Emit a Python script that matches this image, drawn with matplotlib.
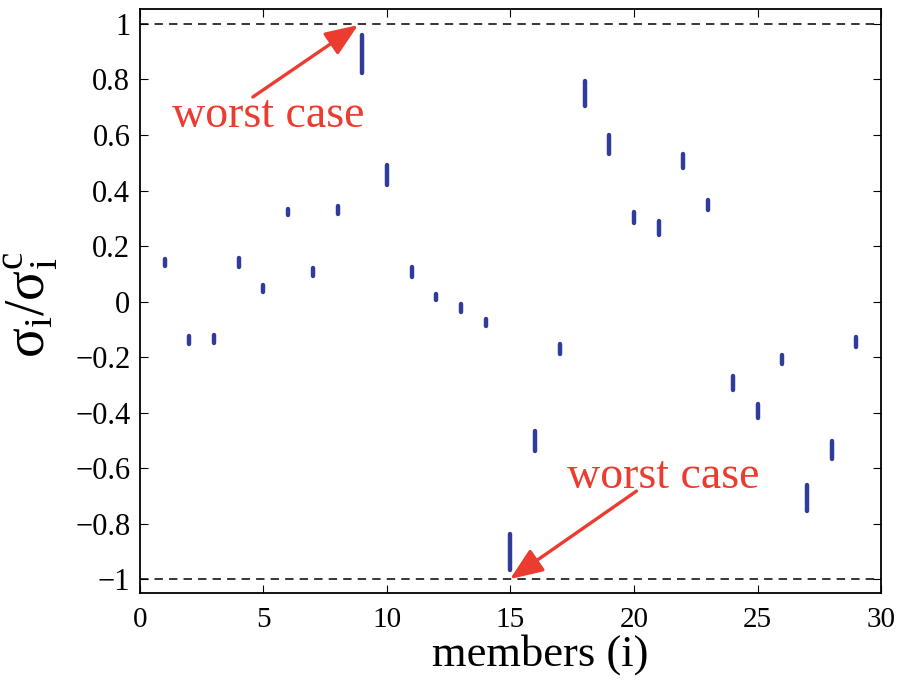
import matplotlib
matplotlib.use("Agg")
import matplotlib.pyplot as plt

# Stress ratio ranges per member (min, max over the load cases)
members = list(range(1, 30))
ratio_lo = [0.127, -0.152, -0.150, 0.123, 0.034, 0.310, 0.093, 0.315, 0.823, 0.421,
            0.088, 0.004, -0.036, -0.087, -0.969, -0.538, -0.188, 0.703, 0.532, 0.283,
            0.241, 0.481, 0.328, -0.320, -0.418, -0.225, -0.754, -0.568, -0.164]
ratio_hi = [0.154, -0.124, -0.122, 0.157, 0.061, 0.335, 0.121, 0.344, 0.959, 0.491,
            0.125, 0.028, -0.008, -0.064, -0.839, -0.468, -0.154, 0.794, 0.601, 0.323,
            0.290, 0.533, 0.366, -0.268, -0.368, -0.191, -0.660, -0.504, -0.128]

limit_lines = [1, -1]
yticks = [-1, -0.8, -0.6, -0.4, -0.2, 0, 0.2, 0.4, 0.6, 0.8, 1]
ytick_labels = ['\u22121', '\u22120.8', '\u22120.6', '\u22120.4', '\u22120.2', '0',
                '0.2', '0.4', '0.6', '0.8', '1']
xticks = [0, 5, 10, 15, 20, 25, 30]

# (text position, arrow tail, arrow head) for the two worst-case notes
note_text = "worst case"
note_pos = [(1.28, 0.630), (17.27, -0.673)]
note_tail = [(4.57, 0.737), (20.1, -0.683)]
note_head = [(8.83, 0.996), (14.98, -1.0)]

plt.rcParams['font.family'] = ['Liberation Serif', 'DejaVu Serif']
plt.rcParams['mathtext.fontset'] = 'custom'
plt.rcParams['mathtext.rm'] = 'Liberation Serif'
plt.rcParams['mathtext.it'] = 'Liberation Serif'

blue = '#2f3c9a'
red = '#ec3b2f'

fig = plt.figure(figsize=(8.99, 6.86), dpi=100)
ax = fig.add_axes([0.1557, 0.1356, 0.8243, 0.8513])

for y in limit_lines:
    ax.plot([0, 30], [y, y], color='black', lw=1.1, dashes=(5.5, 4))

segs = ax.vlines(members, ratio_lo, ratio_hi, colors=blue, lw=3.2)
segs.set_capstyle('round')

for pos, tail, head in zip(note_pos, note_tail, note_head):
    ax.text(pos[0], pos[1], note_text, color=red, fontsize=33,
            ha='left', va='baseline')
    ax.annotate('', xy=head, xytext=tail,
                arrowprops=dict(arrowstyle='-|>,head_length=1.0,head_width=0.4',
                                color=red, lw=2.4, shrinkA=0, shrinkB=0,
                                mutation_scale=20))

ax.set_xlim(0, 30)
ax.set_ylim(-1.05, 1.054)
ax.set_xticks(xticks)
ax.set_yticks(yticks)
ax.set_yticklabels(ytick_labels)
ax.tick_params(direction='in', top=True, right=True, length=6, width=0.8)
ax.tick_params(axis='x', pad=10, labelsize=21)
ax.tick_params(axis='y', pad=7, labelsize=22)
for sp in ax.spines.values():
    sp.set_linewidth(1.3)

ax.set_xlabel('members (i)', fontsize=32)
ax.xaxis.set_label_coords(0.54, -0.07)
ax.set_ylabel(r'$\mathrm{\sigma_i/\sigma_i^c}$', fontsize=40)
ax.yaxis.set_label_coords(-0.107, 0.493)

fig.savefig('out.png', dpi=100)
